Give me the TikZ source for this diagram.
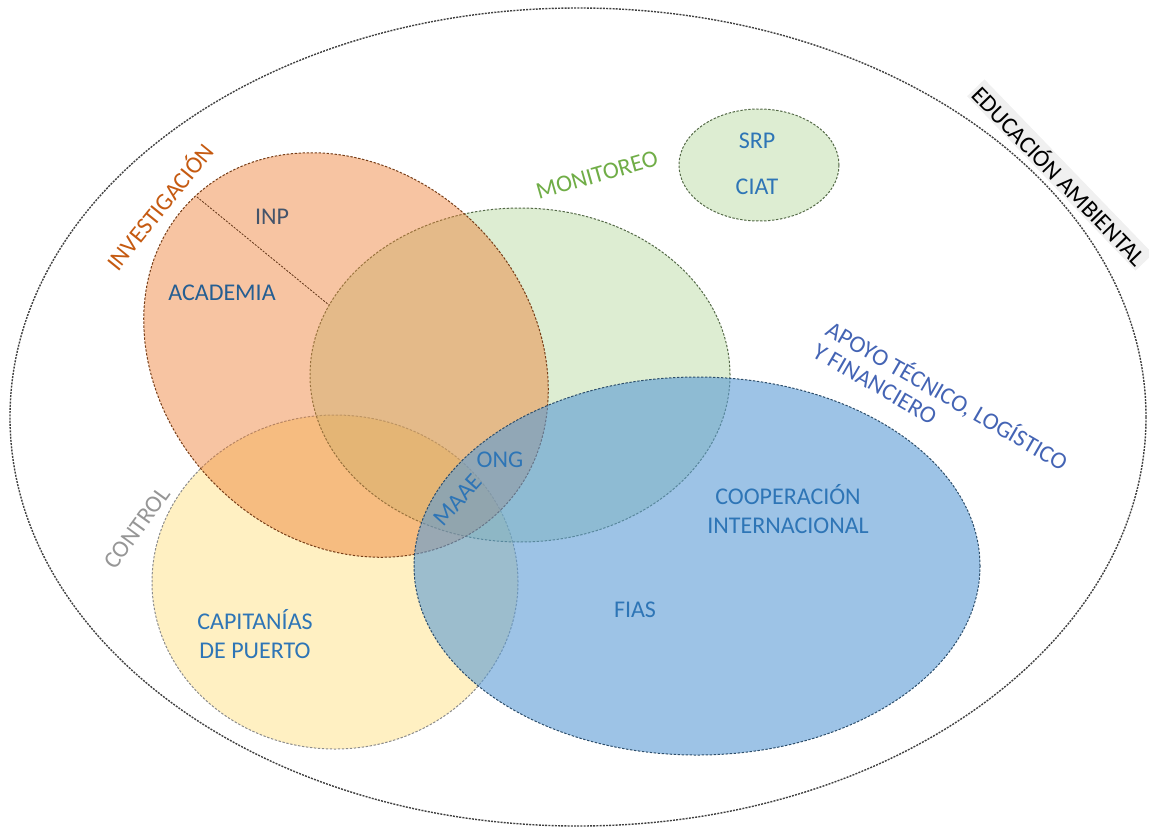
\documentclass[tikz,border=0pt]{standalone}
\usepackage{fontspec}
\setmainfont{Carlito}
\definecolor{txtblue}{RGB}{46,117,182}
\definecolor{inpcol}{RGB}{68,84,106}
\definecolor{apoyocol}{RGB}{68,100,180}
\definecolor{invcol}{RGB}{197,90,17}
\definecolor{moncol}{RGB}{112,173,71}
\definecolor{ctrlcol}{RGB}{150,150,150}
\definecolor{cyellow}{RGB}{255,217,102}
\definecolor{corange}{RGB}{237,125,49}
\definecolor{cgreen}{RGB}{169,209,142}
\definecolor{cblue}{RGB}{91,155,213}
\tikzset{
  lbl/.style={font=\fontsize{12}{14.5}\selectfont, inner sep=1pt, align=center},
  edge/.style={line width=0.5pt, dash pattern=on 1.2pt off 0.8pt},
}
\begin{document}
\begin{tikzpicture}[x=0.5pt,y=0.5pt]
\useasboundingbox (0,0) rectangle (1149,827);
% outer ellipse
\draw[line width=0.7pt, dash pattern=on 1pt off 0.6pt, black!75] (578,410) ellipse [x radius=284pt, y radius=204.5pt];
% yellow (control)
\fill[cyellow, fill opacity=0.4] (335,245) ellipse [x radius=91.5pt, y radius=83.5pt];
\draw[edge, black!45] (335,245) ellipse [x radius=91.5pt, y radius=83.5pt];
% green (monitoreo)
\fill[cgreen, fill opacity=0.4] (520,452) ellipse [x radius=105pt, y radius=83.5pt];
\draw[edge, cgreen!50!black] (520,452) ellipse [x radius=105pt, y radius=83.5pt];
% orange (investigacion)
\fill[corange, fill opacity=0.45, rotate around={-45:(346,472)}] (346,472) ellipse [x radius=109.5pt, y radius=92pt];
\draw[edge, corange!50!black, rotate around={-45:(346,472)}] (346,472) ellipse [x radius=109.5pt, y radius=92pt];
% blue (cooperacion)
\fill[cblue, fill opacity=0.6] (697,261) ellipse [x radius=141.5pt, y radius=94.5pt];
\draw[edge, cblue!50!black] (697,261) ellipse [x radius=141.5pt, y radius=94.5pt];
% small green
\fill[cgreen, fill opacity=0.4] (759,662) ellipse [x radius=40pt, y radius=28pt];
\draw[edge, cgreen!50!black] (759,662) ellipse [x radius=40pt, y radius=28pt];
% divider line
\coordinate (d1) at (197,630);
\coordinate (d2) at (329,522);
\draw[line width=0.4pt, dash pattern=on 1pt off 0.7pt, corange!40!black] (d1) -- (d2);
% labels
\node[lbl, fill=black!6, rotate=-46] (edu) at (1060,652) {EDUCACIÓN AMBIENTAL};
\node[lbl, text=invcol, rotate=51] (inv) at (159,621) {INVESTIGACIÓN};
\node[lbl, text=moncol, rotate=16] (mon) at (597,652) {MONITOREO};
\node[lbl, text=ctrlcol, rotate=54] (ctrl) at (137,299) {CONTROL};
\node[lbl, text=apoyocol, rotate=-30, anchor=base west] (apoyo1) at (822,494) {APOYO TÉCNICO, LOGÍSTICO};
\node[lbl, text=apoyocol, rotate=-30, anchor=base west] (apoyo2) at (809,472) {Y FINANCIERO};
\node[lbl, text=inpcol] (inp) at (272,610) {INP};
\node[lbl, text=txtblue!80!black] (acad) at (222,534) {ACADEMIA};
\node[lbl, text=txtblue] (ong) at (500,367) {ONG};
\node[lbl, text=txtblue, rotate=48] (maae) at (458,327) {MAAE};
\node[lbl, text=txtblue] (coop) at (788,318) {COOPERACIÓN\\INTERNACIONAL};
\node[lbl, text=txtblue] (fias) at (635,217) {FIAS};
\node[lbl, text=txtblue] (cap) at (255,193) {CAPITANÍAS\\DE PUERTO};
\node[lbl, text=txtblue] (srp) at (757,686) {SRP};
\node[lbl, text=txtblue] (ciat) at (757,640) {CIAT};
\end{tikzpicture}
\end{document}
